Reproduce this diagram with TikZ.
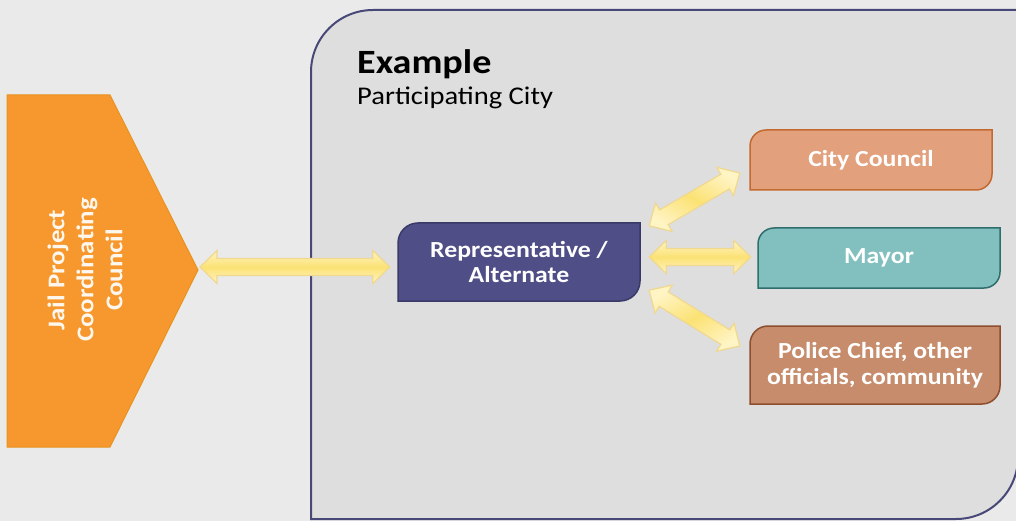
\documentclass[tikz,border=0pt]{standalone}
\usepackage{fontspec}
\setmainfont{Carlito}[FakeStretch=1.12]
\usetikzlibrary{calc}
\definecolor{bg}{HTML}{EAEAEA}
\definecolor{panel}{HTML}{DEDEDE}
\definecolor{panelline}{HTML}{484878}
\definecolor{jporange}{HTML}{F7982F}
\definecolor{jpline}{HTML}{E8921E}
\definecolor{repfill}{HTML}{4F4E87}
\definecolor{repline}{HTML}{3A3A68}
\definecolor{ccfill}{HTML}{E2A07C}
\definecolor{ccline}{HTML}{C46A30}
\definecolor{myfill}{HTML}{82C0C0}
\definecolor{myline}{HTML}{2E6E6C}
\definecolor{pcfill}{HTML}{C68C6C}
\definecolor{pcline}{HTML}{8E4E2E}
\definecolor{arrowedge}{HTML}{F0D890}
\definecolor{arrowpale}{HTML}{FFF4C4}
\definecolor{arrowyel}{HTML}{FBE274}
% box with rounded top-left and bottom-right corners
\newcommand\diagbox[6]{%
  \path[#1] (#2,#5) -- (#2,{#3+#6})
    .. controls (#2,{#3+0.448*#6}) and ({#2+0.448*#6},#3) .. ({#2+#6},#3)
    -- (#4,#3) -- (#4,{#5-#6})
    .. controls (#4,{#5-0.448*#6}) and ({#4-0.448*#6},#5) .. ({#4-#6},#5)
    -- cycle;}
% double block arrow between two points
\newcommand\dblarrow[3]{%
  \coordinate (ha) at ($(#1)!17pt!(#2)$);
  \coordinate (hb) at ($(#2)!17pt!(#1)$);
  \path[blockarrow,#3] (#1) -- ($(ha)!16.5pt!90:(#2)$) -- ($(ha)!8.5pt!90:(#2)$)
    -- ($(hb)!8.5pt!-90:(#1)$) -- ($(hb)!16.5pt!-90:(#1)$) -- (#2)
    -- ($(hb)!16.5pt!90:(#1)$) -- ($(hb)!8.5pt!90:(#1)$)
    -- ($(ha)!8.5pt!-90:(#2)$) -- ($(ha)!16.5pt!-90:(#2)$) -- cycle;}
\begin{document}
\begin{tikzpicture}[x=1pt,y=-1pt,
  blockarrow/.style={draw=arrowedge, line width=1.2pt, line join=miter,
    top color=arrowpale, bottom color=arrowpale, middle color=arrowyel},
  boxtext/.style={text=white, font=\bfseries\fontsize{23}{25.5}\selectfont,
    align=center, inner sep=0pt},
  panelshape/.style={fill=panel, draw=panelline, line width=2pt},
]
\useasboundingbox (0,0) rectangle (1016,521);
\fill[bg] (0,0) rectangle (1016,521);

% participating city panel
\diagbox{panelshape}{311}{10}{1018}{519}{62}
\node[anchor=base west, inner sep=0pt, font=\bfseries\fontsize{34}{38}\selectfont] (title) at (357,74) {Example};
\node[anchor=base west, inner sep=0pt, font=\fontsize{25.5}{29}\selectfont] (subtitle) at (357,105) {Participating City};

% Jail Project Coordinating Council pentagon
\path[fill=jporange, draw=jpline, line width=1pt, line join=miter]
  (7,95) -- (110,95) -- (198,270) -- (110,447) -- (7,447) -- cycle;
\coordinate (jptip) at (198,270);
\node[rotate=90, align=center, inner sep=0pt, text=white!92!jporange,
  font=\bfseries\fontsize{24}{29}\selectfont] (jp) at (85,270)
  {Jail Project\\Coordinating\\Council};

% boxes
\diagbox{fill=repfill, draw=repline, line width=1.5pt}{398}{223}{640}{301}{20}
\node[boxtext, minimum width=242pt, minimum height=78pt] (rep) at (519,262) {Representative /\\Alternate};
\diagbox{fill=ccfill, draw=ccline, line width=1.5pt}{750}{130}{992}{190}{16}
\node[boxtext, minimum width=242pt, minimum height=60pt] (cc) at (871,160) {City Council};
\diagbox{fill=myfill, draw=myline, line width=1.5pt}{758}{228}{1000}{288}{16}
\node[boxtext, minimum width=242pt, minimum height=60pt] (mayor) at (879,258) {Mayor};
\diagbox{fill=pcfill, draw=pcline, line width=1.5pt}{750}{326}{1000}{404}{18}
\node[boxtext, minimum width=250pt, minimum height=78pt] (police) at (875,365) {Police Chief, other\\officials, community};

% connector end points
\coordinate (a1) at ($(jptip)+(2,-3)$);
\coordinate (a2) at ($(rep.west)+(-8,5)$);
\coordinate (b1) at ($(rep.north east)+(9,3)$);
\coordinate (b2) at ($(cc.west)+(-10,13)$);
\coordinate (c1) at ($(rep.east)+(9,-5)$);
\coordinate (c2) at ($(mayor.west)+(-7,-1)$);
\coordinate (d1) at ($(rep.south east)+(9,-11)$);
\coordinate (d2) at ($(police.west)+(-10,-19)$);

\dblarrow{a1}{a2}{}
\dblarrow{b1}{b2}{shading angle=-30}
\dblarrow{c1}{c2}{}
\dblarrow{d1}{d2}{shading angle=31}
\end{tikzpicture}
\end{document}
